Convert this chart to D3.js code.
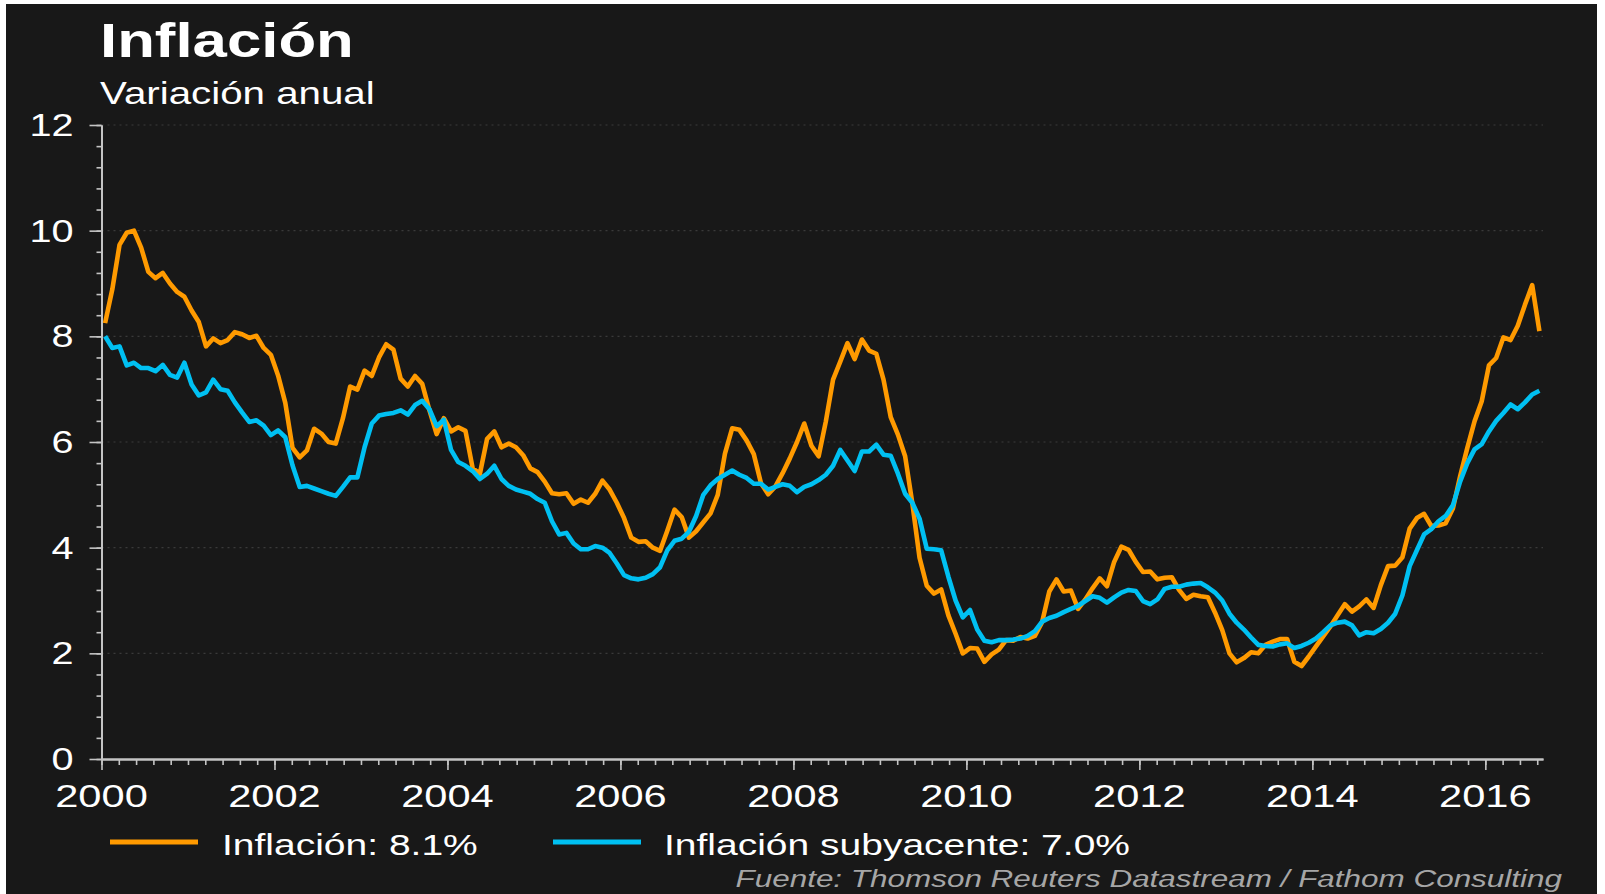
<!DOCTYPE html>
<html><head><meta charset="utf-8">
<script src="https://cdn.jsdelivr.net/npm/d3@7"></script>
<style>
html,body{margin:0;padding:0;background:#ffffff;}
svg{display:block;}
text{font-family:"Liberation Sans",Arial,Helvetica,sans-serif;}
</style>
</head><body>
<svg id="chart" width="1605" height="894"></svg>
<script>
// ---------- DATA ----------
const startYear = 2000;          // monthly observations from January 2000
const inflacion = [
  8.25, 8.89, 9.73, 9.96, 10.0, 9.68, 9.22, 9.1, 9.2, 9.0, 8.84, 8.75,
  8.49, 8.27, 7.81, 7.96, 7.87, 7.93, 8.08, 8.04, 7.97, 8.01, 7.78, 7.65,
  7.26, 6.74, 5.89, 5.71, 5.84, 6.25, 6.16, 6.0, 5.97, 6.45, 7.05, 6.99,
  7.35, 7.25, 7.6, 7.85, 7.75, 7.2, 7.05, 7.25, 7.1, 6.6, 6.15, 6.45,
  6.2, 6.28, 6.21, 5.5, 5.4, 6.06, 6.2, 5.9, 5.97, 5.9, 5.75, 5.5,
  5.43, 5.25, 5.03, 5.01, 5.03, 4.83, 4.91, 4.85, 5.02, 5.27, 5.1, 4.85,
  4.56, 4.19, 4.11, 4.12, 4.0, 3.94, 4.32, 4.72, 4.58, 4.19, 4.31, 4.48,
  4.65, 5.0, 5.78, 6.26, 6.23, 6.03, 5.77, 5.22, 5.01, 5.16, 5.41, 5.69,
  6.0, 6.35, 5.93, 5.73, 6.39, 7.18, 7.52, 7.87, 7.57, 7.94, 7.73, 7.67,
  7.18, 6.47, 6.14, 5.73, 4.84, 3.81, 3.28, 3.13, 3.21, 2.72, 2.37, 2.0,
  2.1, 2.09, 1.84, 1.98, 2.07, 2.25, 2.24, 2.31, 2.28, 2.33, 2.59, 3.17,
  3.4, 3.17, 3.19, 2.84, 3.02, 3.23, 3.42, 3.27, 3.73, 4.02, 3.96, 3.73,
  3.54, 3.55, 3.4, 3.43, 3.44, 3.2, 3.03, 3.11, 3.08, 3.06, 2.77, 2.44,
  2.0, 1.83, 1.91, 2.02, 2.0, 2.16, 2.22, 2.27, 2.27, 1.84, 1.76, 1.94,
  2.13, 2.32, 2.51, 2.72, 2.93, 2.79, 2.89, 3.02, 2.86, 3.29, 3.65, 3.66,
  3.82, 4.36, 4.56, 4.64, 4.41, 4.42, 4.46, 4.74, 5.35, 5.89, 6.39, 6.77,
  7.45, 7.59, 7.98, 7.93, 8.2, 8.6, 8.97, 8.1
];
const subyacente = [
  8.0, 7.78, 7.81, 7.45, 7.5, 7.4, 7.4, 7.34, 7.46, 7.27, 7.22, 7.5,
  7.09, 6.88, 6.94, 7.18, 7.0, 6.97, 6.75, 6.56, 6.38, 6.41, 6.31, 6.13,
  6.22, 6.09, 5.56, 5.15, 5.17, 5.12, 5.07, 5.02, 4.98, 5.15, 5.33, 5.33,
  5.9, 6.35, 6.5, 6.53, 6.55, 6.6, 6.52, 6.7, 6.78, 6.62, 6.3, 6.42,
  5.85, 5.62, 5.55, 5.45, 5.3, 5.4, 5.55, 5.3, 5.17, 5.1, 5.06, 5.02,
  4.92, 4.85, 4.5, 4.25, 4.28, 4.08, 3.97, 3.97, 4.03, 4.0, 3.9, 3.7,
  3.48, 3.42, 3.4, 3.43, 3.5, 3.63, 3.95, 4.13, 4.17, 4.3, 4.6, 5.0,
  5.18, 5.3, 5.38, 5.46, 5.38, 5.32, 5.21, 5.21, 5.1, 5.15, 5.2, 5.17,
  5.05, 5.15, 5.2, 5.28, 5.38, 5.55, 5.85, 5.65, 5.45, 5.82, 5.82, 5.95,
  5.76, 5.74, 5.4, 5.02, 4.85, 4.55, 3.98, 3.97, 3.95, 3.45, 3.0, 2.68,
  2.82, 2.45, 2.24, 2.21, 2.25, 2.25, 2.26, 2.28, 2.33, 2.42, 2.6, 2.67,
  2.71, 2.78, 2.84, 2.9, 2.99, 3.08, 3.05, 2.96, 3.06, 3.15, 3.2, 3.18,
  2.99, 2.93, 3.02, 3.22, 3.26, 3.26, 3.3, 3.32, 3.33, 3.25, 3.15, 3.0,
  2.75, 2.58, 2.45, 2.3, 2.16, 2.14, 2.13, 2.17, 2.19, 2.1, 2.14, 2.2,
  2.28, 2.4, 2.53, 2.58, 2.6, 2.53, 2.34, 2.4, 2.38, 2.46, 2.58, 2.75,
  3.1, 3.65, 3.95, 4.25, 4.35, 4.5, 4.6, 4.8, 5.25, 5.6, 5.86, 5.96,
  6.2, 6.4, 6.55, 6.71, 6.62, 6.75, 6.9, 6.97
];
const xTickLabels = [2000, 2002, 2004, 2006, 2008, 2010, 2012, 2014, 2016];
const yTickLabels = [0, 2, 4, 6, 8, 10, 12];
const seriesNames = ["Inflación: 8.1%", "Inflación subyacente: 7.0%"];
const titleText = "Inflación";
const subtitleText = "Variación anual";
const sourceText = "Fuente: Thomson Reuters Datastream / Fathom Consulting";

// ---------- DRAWING ----------
const svg = d3.select("#chart");
const ORANGE = "#ff9a00", BLUE = "#00c0f2", AXIS = "#c4c4c4";
const SX = 1.3; // horizontal stretch of the original artwork's lettering

svg.append("rect").attr("x", 6).attr("y", 4).attr("width", 1591).attr("height", 890).attr("fill", "#181818");

const endT = startYear + (inflacion.length) / 12;
const x = d3.scaleLinear().domain([startYear, endT]).range([101.5, 1543]);
const y = d3.scaleLinear().domain([0, 12]).range([759, 125]);

function label(txt, px, py, size, opts = {}) {
  return svg.append("text")
    .attr("transform", `translate(${px},${py}) scale(${SX},1)`)
    .attr("text-anchor", opts.anchor || "start")
    .attr("font-size", size)
    .attr("font-weight", opts.weight || "normal")
    .attr("font-style", opts.style || "normal")
    .attr("fill", opts.fill || "#ffffff")
    .text(txt);
}

// gridlines
svg.append("g").selectAll("line").data(yTickLabels.filter(d => d > 0)).join("line")
  .attr("x1", x(startYear)).attr("x2", x(endT))
  .attr("y1", d => y(d)).attr("y2", d => y(d))
  .attr("stroke", "#3a3a3a").attr("stroke-width", 1.2).attr("stroke-dasharray", "2,4");

// y axis: minor + major ticks
const yMinor = d3.range(0, 12.001, 0.4).map(v => +v.toFixed(1));
const yAxisMinor = svg.append("g").attr("transform", `translate(${x(startYear)},0)`)
  .call(d3.axisLeft(y).tickValues(yMinor).tickSize(5).tickSizeOuter(0).tickFormat(""));
const yAxisMajor = svg.append("g").attr("transform", `translate(${x(startYear)},0)`)
  .call(d3.axisLeft(y).tickValues(yTickLabels).tickSize(12).tickSizeOuter(0).tickFormat(""));
// x axis: minor + major ticks
const xMinor = d3.range(0, 16.67, 0.2).map(v => startYear + v);
const xAxisMinor = svg.append("g").attr("transform", `translate(0,${y(0)})`)
  .call(d3.axisBottom(x).tickValues(xMinor).tickSize(6).tickSizeOuter(0).tickFormat(""));
const xAxisMajor = svg.append("g").attr("transform", `translate(0,${y(0)})`)
  .call(d3.axisBottom(x).tickValues(xTickLabels).tickSize(11).tickSizeOuter(0).tickFormat(""));
[yAxisMinor, yAxisMajor, xAxisMinor, xAxisMajor].forEach(g => {
  g.selectAll("path.domain").attr("stroke", AXIS).attr("stroke-width", 2);
  g.selectAll(".tick line").attr("stroke", AXIS).attr("stroke-width", 1.6);
});

// tick labels
yTickLabels.forEach(v => label(String(v), 73.5, y(v) + 11, 30.5, { anchor: "end" }));
xTickLabels.forEach(v => label(String(v), x(v), 807, 32, { anchor: "middle" }));

// lines
const t = i => startYear + (i + 0.5) / 12;
const line = d3.line().x((d, i) => x(t(i))).y(d => y(d)).curve(d3.curveLinear);
svg.append("path").datum(inflacion).attr("d", line)
  .attr("fill", "none").attr("stroke", ORANGE).attr("stroke-width", 4.6)
  .attr("stroke-linejoin", "round").attr("stroke-linecap", "butt");
svg.append("path").datum(subyacente).attr("d", line)
  .attr("fill", "none").attr("stroke", BLUE).attr("stroke-width", 4.6)
  .attr("stroke-linejoin", "round").attr("stroke-linecap", "butt");

// titles
label(titleText, 100, 57, 47.5, { weight: "bold" });
label(subtitleText, 100, 104, 31);

// legend
const legend = [
  { name: seriesNames[0], color: ORANGE, x0: 110, x1: 198, tx: 222 },
  { name: seriesNames[1], color: BLUE, x0: 553, x1: 641, tx: 664 }
];
legend.forEach(l => {
  svg.append("line").attr("x1", l.x0).attr("x2", l.x1).attr("y1", 842).attr("y2", 842)
    .attr("stroke", l.color).attr("stroke-width", 5);
  label(l.name, l.tx, 855, 30);
});

// source
label(sourceText, 1562, 887, 24.2, { anchor: "end", style: "italic", fill: "#a6a6a6" });
</script>
</body></html>
